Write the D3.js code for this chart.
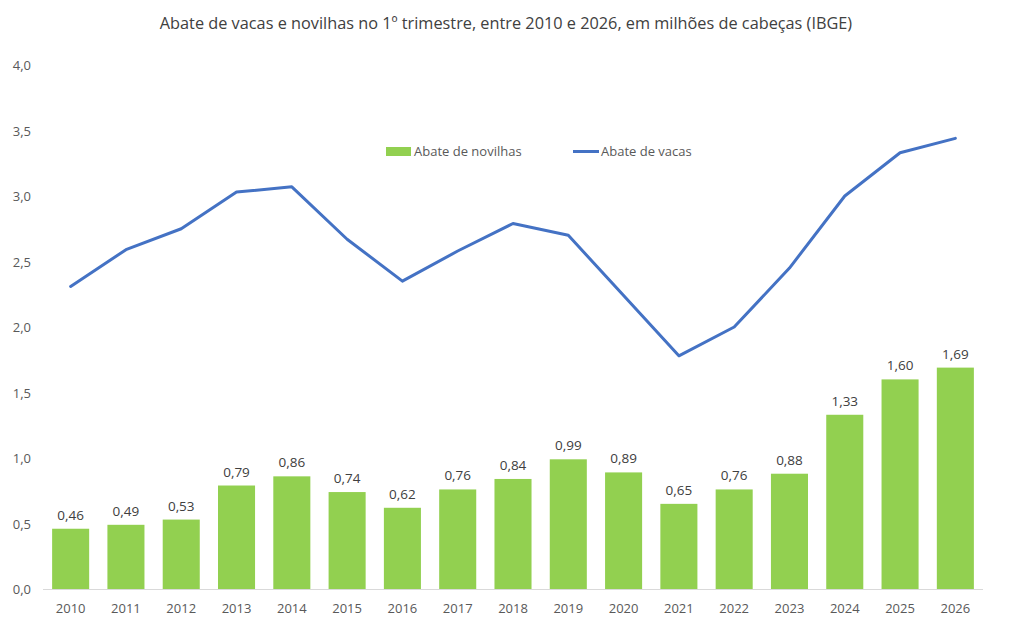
<!DOCTYPE html>
<html>
<head>
<meta charset="utf-8">
<script src="https://cdn.jsdelivr.net/npm/d3@7"></script>
<style>
  body { margin: 0; background: #fff; }
  text { font-family: "Open Sans", "Noto Sans", sans-serif; fill: #595959; }
</style>
</head>
<body>
<svg width="1012" height="631"></svg>
<script>
var anos = ["2010","2011","2012","2013","2014","2015","2016","2017","2018","2019","2020","2021","2022","2023","2024","2025","2026"];
var novilhas = [0.46,0.49,0.53,0.79,0.86,0.74,0.62,0.76,0.84,0.99,0.89,0.65,0.76,0.88,1.33,1.60,1.69];
var vacas = [2.31,2.59,2.75,3.03,3.07,2.67,2.35,2.58,2.79,2.70,2.24,1.78,2.00,2.45,3.00,3.33,3.44];
var yTicks = [0,0.5,1,1.5,2,2.5,3,3.5,4];

var svg = d3.select("svg");
var plotLeft = 43, plotRight = 983, plotTop = 65, plotBottom = 589;

var x = d3.scaleBand().domain(anos).range([plotLeft, plotRight]).paddingInner(0.33).paddingOuter(0.165);
var y = d3.scaleLinear().domain([0, 4]).range([plotBottom, plotTop]);
var fmt = function(v, d) { return v.toFixed(d).replace(".", ","); };

// title
svg.append("text")
  .attr("x", 506).attr("y", 29)
  .attr("text-anchor", "middle")
  .style("font-size", "16.3px")
  .style("fill", "#404040")
  .text("Abate de vacas e novilhas no 1º trimestre, entre 2010 e 2026, em milhões de cabeças (IBGE)");

// y labels
svg.append("g").selectAll("text")
  .data(yTicks).enter().append("text")
  .attr("x", 31).attr("y", function(d) { return y(d) + 5; })
  .attr("text-anchor", "end")
  .style("font-size", "13px")
  .text(function(d) { return fmt(d, 1); });

// bars
svg.append("g").selectAll("rect")
  .data(novilhas).enter().append("rect")
  .attr("x", function(d, i) { return x(anos[i]); })
  .attr("y", function(d) { return y(d); })
  .attr("width", x.bandwidth())
  .attr("height", function(d) { return plotBottom - y(d); })
  .attr("fill", "#92D050");

// bar labels
svg.append("g").selectAll("text")
  .data(novilhas).enter().append("text")
  .attr("x", function(d, i) { return x(anos[i]) + x.bandwidth() / 2; })
  .attr("y", function(d) { return y(d) - 9; })
  .attr("text-anchor", "middle")
  .style("font-size", "13.5px")
  .style("fill", "#404040")
  .text(function(d) { return fmt(d, 2); });

// baseline
svg.append("line")
  .attr("x1", plotLeft).attr("x2", plotRight)
  .attr("y1", plotBottom + 0.5).attr("y2", plotBottom + 0.5)
  .attr("stroke", "#d9d9d9").attr("stroke-width", 1);

// x labels
svg.append("g").selectAll("text")
  .data(anos).enter().append("text")
  .attr("x", function(d) { return x(d) + x.bandwidth() / 2; })
  .attr("y", 613)
  .attr("text-anchor", "middle")
  .style("font-size", "13px")
  .text(function(d) { return d; });

// line
var line = d3.line()
  .x(function(d, i) { return x(anos[i]) + x.bandwidth() / 2; })
  .y(function(d) { return y(d); });
svg.append("path")
  .datum(vacas)
  .attr("d", line)
  .attr("fill", "none")
  .attr("stroke", "#4472C4")
  .attr("stroke-width", 3)
  .attr("stroke-linejoin", "round")
  .attr("stroke-linecap", "round");

// legend
var lg = svg.append("g");
lg.append("rect").attr("x", 386).attr("y", 147).attr("width", 25).attr("height", 9).attr("fill", "#92D050");
lg.append("text").attr("x", 414).attr("y", 156).style("font-size", "13px").text("Abate de novilhas");
lg.append("line").attr("x1", 573).attr("x2", 599).attr("y1", 151.5).attr("y2", 151.5)
  .attr("stroke", "#4472C4").attr("stroke-width", 3);
lg.append("text").attr("x", 601).attr("y", 156).style("font-size", "13px").text("Abate de vacas");
</script>
</body>
</html>
